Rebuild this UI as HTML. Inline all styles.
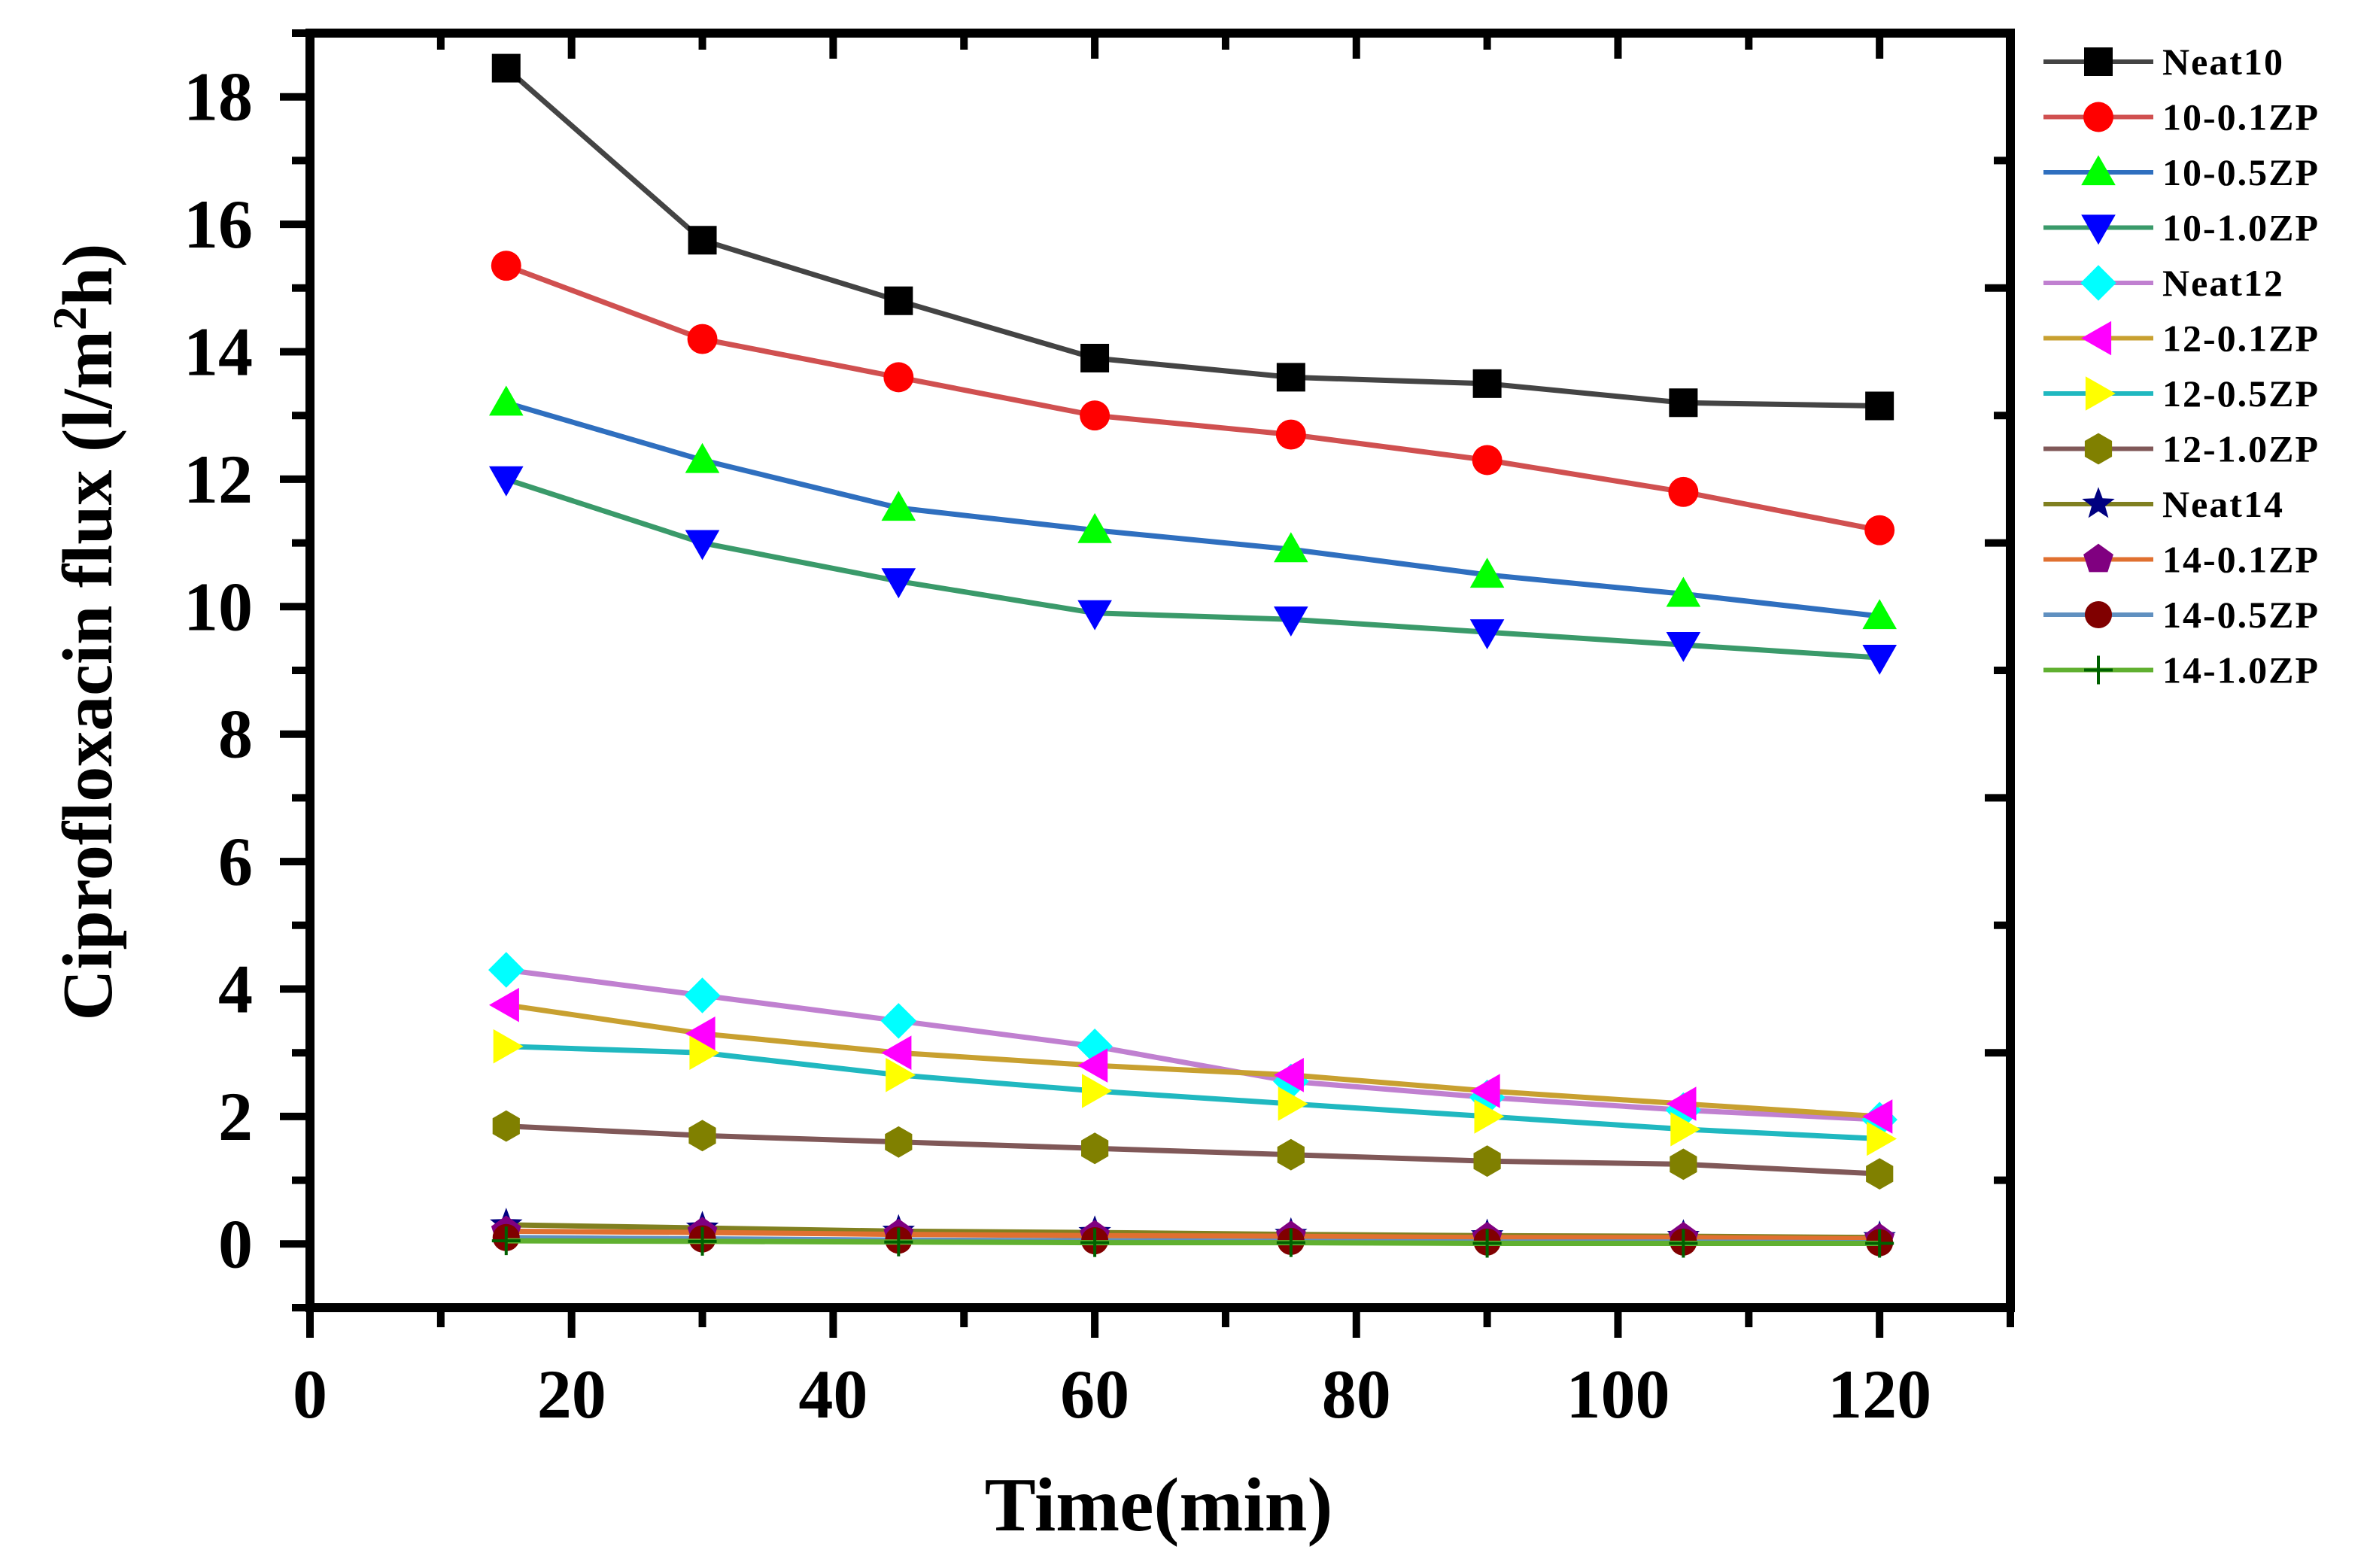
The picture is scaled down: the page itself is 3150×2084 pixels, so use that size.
<!DOCTYPE html>
<html><head><meta charset="utf-8"><style>
html,body{margin:0;padding:0;background:#fff;}
svg{display:block;}
text{font-family:"Liberation Serif",serif;font-weight:bold;fill:#000;}
</style></head><body>
<svg id="chart" width="3150" height="2084" viewBox="0 0 3150 2084" xmlns="http://www.w3.org/2000/svg">
<g id="grid"></g>
<g id="series"></g>
<g id="legend"></g>
<text x="1540" y="2034" font-size="102" text-anchor="middle">Time(min)</text>
<text transform="translate(148,840) rotate(-90)" font-size="94" text-anchor="middle">Ciprofloxacin flux (l/m<tspan font-size="64" dy="-34">2</tspan><tspan dy="34">h)</tspan></text>
</svg>
<script>
const times = [15,30,45,60,75,90,105,120];
const seriesNames = ["Neat10","10-0.1ZP","10-0.5ZP","10-1.0ZP","Neat12","12-0.1ZP","12-0.5ZP","12-1.0ZP","Neat14","14-0.1ZP","14-0.5ZP","14-1.0ZP"];
const neat10 = [18.45,15.75,14.8,13.9,13.6,13.5,13.2,13.15];
const s10_01 = [15.35,14.2,13.6,13.0,12.7,12.3,11.8,11.2];
const s10_05 = [13.2,12.3,11.55,11.2,10.9,10.5,10.2,9.85];
const s10_10 = [12.0,11.0,10.4,9.9,9.8,9.6,9.4,9.2];
const neat12 = [4.3,3.9,3.5,3.1,2.55,2.3,2.1,1.95];
const s12_01 = [3.75,3.3,3.0,2.8,2.65,2.4,2.2,2.0];
const s12_05 = [3.1,3.0,2.65,2.4,2.2,2.0,1.8,1.65];
const s12_10 = [1.85,1.7,1.6,1.5,1.4,1.3,1.25,1.1];
const neat14 = [0.3,0.25,0.2,0.18,0.15,0.13,0.12,0.1];
const s14_01 = [0.2,0.18,0.15,0.13,0.12,0.1,0.1,0.08];
const s14_05 = [0.1,0.08,0.06,0.05,0.04,0.03,0.03,0.02];
const s14_10 = [0.05,0.04,0.03,0.02,0.02,0.01,0.01,0.01];
const xTickLabels = ["0","20","40","60","80","100","120"];
const yTickLabels = ["0","2","4","6","8","10","12","14","16","18"];

const allValues = [neat10,s10_01,s10_05,s10_10,neat12,s12_01,s12_05,s12_10,neat14,s14_01,s14_05,s14_10];
const styles = [
 {line:"#444444",fill:"#000000",m:"square"},
 {line:"#d05050",fill:"#ff0000",m:"circle"},
 {line:"#2f6fbf",fill:"#00ff00",m:"up"},
 {line:"#3a9a6a",fill:"#0000ff",m:"down"},
 {line:"#c080d0",fill:"#00ffff",m:"diamond"},
 {line:"#c8a030",fill:"#ff00ff",m:"left"},
 {line:"#20b8c0",fill:"#ffff00",m:"right"},
 {line:"#805858",fill:"#808000",m:"hex"},
 {line:"#808020",fill:"#000080",m:"star"},
 {line:"#e07030",fill:"#800080",m:"pent"},
 {line:"#6090c0",fill:"#800000",m:"ball"},
 {line:"#60b030",fill:"#006000",m:"plus"}
];
const X0=412,X1=2672,Y0=44,Y1=1738;
const xMin=0,xMax=130,yMin=-1,yMax=19;
function sx(v){return X0+(v-xMin)/(xMax-xMin)*(X1-X0);}
function sy(v){return Y1-(v-yMin)/(yMax-yMin)*(Y1-Y0);}
const NS="http://www.w3.org/2000/svg";
function mk(tag,attrs,parent){const e=document.createElementNS(NS,tag);for(const k in attrs)e.setAttribute(k,attrs[k]);parent.appendChild(e);return e;}

const ax=document.getElementById('grid');
const frame=mk('rect',{x:X0,y:Y0,width:X1-X0,height:Y1-Y0,fill:'none',stroke:'#000','stroke-width':12},ax);


for(let v=0;v<=130;v+=10){
  const major=v%20===0;
  const t=mk('line',{x1:sx(v),x2:sx(v),y1:Y1,y2:Y1+(major?40:26),stroke:'#000','stroke-width':10},ax);
  
  
  if(v>0&&v<130){const tt=mk('line',{x1:sx(v),x2:sx(v),y1:Y0,y2:Y0+(major?34:22),stroke:'#000','stroke-width':10},ax);
  
  }
}
xTickLabels.forEach((l,i)=>{
  const t=mk('text',{x:sx(i*20),y:1884,'font-size':92,'text-anchor':'middle'},ax);
  t.textContent=l;
  
  
});
for(let v=-1;v<=19;v++){
  const major=v%2===0;
  const t=mk('line',{x1:X0-(major?40:24),x2:X0,y1:sy(v),y2:sy(v),stroke:'#000','stroke-width':10},ax);
  
  
  if(!major && v>0 && v<19){const rt=mk('line',{x1:X1-((v+1)%4===0?34:22),x2:X1,y1:sy(v),y2:sy(v),stroke:'#000','stroke-width':10},ax);
  
  }
}
yTickLabels.forEach((l,i)=>{
  const t=mk('text',{x:336,y:sy(i*2)+31,'font-size':92,'text-anchor':'end'},ax);
  t.textContent=l;
  
  
});

function marker(type,cx,cy,r,fill,parent){
  let e;
  const pts=a=>a.map(p=>(cx+p[0]*r).toFixed(1)+','+(cy+p[1]*r).toFixed(1)).join(' ');
  switch(type){
    case 'square': e=mk('rect',{x:cx-r,y:cy-r,width:2*r,height:2*r,fill},parent);break;
    case 'circle': e=mk('circle',{cx,cy,r:r*1.05,fill},parent);break;
    case 'ball': e=mk('circle',{cx,cy,r:r*0.95,fill},parent);break;
    case 'up': e=mk('polygon',{points:pts([[0,-1.2],[1.2,0.9],[-1.2,0.9]]),fill},parent);break;
    case 'down': e=mk('polygon',{points:pts([[0,1.2],[1.2,-0.9],[-1.2,-0.9]]),fill},parent);break;
    case 'left': e=mk('polygon',{points:pts([[-1.2,0],[0.9,-1.2],[0.9,1.2]]),fill},parent);break;
    case 'right': e=mk('polygon',{points:pts([[1.2,0],[-0.9,-1.2],[-0.9,1.2]]),fill},parent);break;
    case 'diamond': e=mk('polygon',{points:pts([[0,-1.25],[1.25,0],[0,1.25],[-1.25,0]]),fill},parent);break;
    case 'hex': {const a=[];for(let k=0;k<6;k++){const t=Math.PI/6+k*Math.PI/3;a.push([1.1*Math.cos(t),1.1*Math.sin(t)]);}e=mk('polygon',{points:pts(a),fill},parent);break;}
    case 'pent': {const a=[];for(let k=0;k<5;k++){const t=-Math.PI/2+k*2*Math.PI/5;a.push([1.1*Math.cos(t),1.1*Math.sin(t)]);}e=mk('polygon',{points:pts(a),fill},parent);break;}
    case 'star': {const a=[];for(let k=0;k<10;k++){const t=-Math.PI/2+k*Math.PI/5;const rr=k%2?0.5:1.2;a.push([rr*Math.cos(t),rr*Math.sin(t)]);}e=mk('polygon',{points:pts(a),fill},parent);break;}
    case 'plus': e=mk('path',{d:`M${cx-r} ${cy}H${cx+r}M${cx} ${cy-r}V${cy+r}`,stroke:fill,'stroke-width':4,fill:'none'},parent);break;
  }
  return e;
}

const sg=document.getElementById('series');
allValues.forEach((vals,si)=>{
  const g=mk('g',{},sg);
  
  
  const d=vals.map((v,i)=>(i?'L':'M')+sx(times[i]).toFixed(1)+' '+sy(v).toFixed(1)).join('');
  const p=mk('path',{d,fill:'none',stroke:styles[si].line,'stroke-width':7},g);
  
  
  vals.forEach((v,i)=>{
    const m=marker(styles[si].m,sx(times[i]),sy(v),19,styles[si].fill,g);
    
    
  });
});

const lg=document.getElementById('legend');
seriesNames.forEach((n,i)=>{
  const y=82+i*73.5;
  const g=mk('g',{},lg);
  
  
  mk('line',{x1:2716,x2:2862,y1:y,y2:y,stroke:styles[i].line,'stroke-width':6},g);
  marker(styles[i].m,2789,y,19,styles[i].fill,g);
  const t=mk('text',{x:2874,y:y+17,'font-size':50,'letter-spacing':2},g);
  t.textContent=n;
});
</script>
</body></html>
